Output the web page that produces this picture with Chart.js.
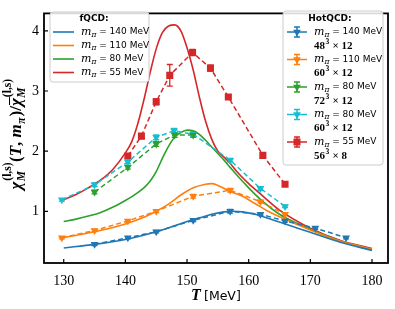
<!DOCTYPE html>
<html>
<head>
<meta charset="utf-8">
<script src="https://cdn.jsdelivr.net/npm/chart.js@4.4.0/dist/chart.umd.min.js"></script>
<style>
  html, body { margin: 0; padding: 0; background: #fff; }
</style>
</head>
<body>
<canvas id="chart" width="395" height="309"></canvas>
<script>
// axis ticks
const xTicks = [130, 140, 150, 160, 170, 180];
const yTicks = [1, 2, 3, 4];

// fQCD curves (solid lines)
const fqcd140T = [130, 135, 140, 145, 148, 150, 152, 154, 156, 157.5, 159, 161, 163, 165, 170, 175, 180];
const fqcd140Y = [0.39, 0.45, 0.53, 0.66, 0.76, 0.83, 0.89, 0.95, 0.99, 1.0, 0.99, 0.95, 0.89, 0.82, 0.65, 0.48, 0.35];
const fqcd110T = [130, 135, 140, 143, 145, 147, 149, 151, 153, 154, 155, 157, 159, 161, 163, 165, 170, 175, 180];
const fqcd110Y = [0.56, 0.66, 0.79, 0.9, 1.0, 1.12, 1.27, 1.39, 1.45, 1.46, 1.43, 1.33, 1.25, 1.13, 1.01, 0.91, 0.69, 0.5, 0.37];
const fqcd80T = [130, 132, 134, 136, 138, 140, 141, 142, 143, 144, 145, 146, 147, 148, 149, 150, 151, 152, 153, 154, 155, 156, 157, 158, 160, 162, 165, 170, 175, 180];
const fqcd80Y = [0.83, 0.87, 0.92, 0.98, 1.07, 1.18, 1.24, 1.31, 1.39, 1.5, 1.66, 1.88, 2.08, 2.23, 2.31, 2.35, 2.34, 2.28, 2.18, 2.07, 1.96, 1.85, 1.73, 1.61, 1.39, 1.19, 0.95, 0.7, 0.5, 0.37];
const fqcd55T = [130, 132, 134, 136, 138, 140, 141, 142, 143, 144, 145, 146, 147, 148, 149, 150, 151, 152, 153, 154, 155, 156, 157, 158, 160, 162, 165, 170, 175, 180];
const fqcd55Y = [1.19, 1.28, 1.39, 1.52, 1.70, 1.97, 2.15, 2.45, 2.85, 3.30, 3.70, 3.97, 4.08, 4.10, 4.00, 3.72, 3.35, 2.90, 2.50, 2.20, 2.00, 1.90, 1.80, 1.67, 1.46, 1.28, 1.02, 0.72, 0.51, 0.38];

// HotQCD lattice points (dashed lines with markers)
const hot140T = [135.0, 140.4, 145.0, 151.0, 157.0, 161.9, 165.9, 170.8, 175.8];
const hot140Y = [0.45, 0.56, 0.66, 0.85, 1.00, 0.95, 0.84, 0.72, 0.56];
const hot140Err = [0.02, 0.02, 0.02, 0.02, 0.03, 0.02, 0.02, 0.02, 0.02];
const hot110T = [129.7, 135.0, 140.4, 145.0, 151.0, 157.0, 161.9, 165.9];
const hot110Y = [0.56, 0.68, 0.84, 1.00, 1.25, 1.35, 1.16, 0.95];
const hot110Err = [0.02, 0.02, 0.02, 0.02, 0.03, 0.03, 0.02, 0.02];
const hot80aT = [135.0, 140.4, 145.0, 148.0, 151.0];
const hot80aY = [1.32, 1.73, 2.12, 2.27, 2.27];
const hot80aErr = [0.03, 0.03, 0.04, 0.04, 0.04];
const hot80bT = [129.7, 135.0, 140.4, 145.0, 147.9, 151.0, 157.0, 161.9, 165.9];
const hot80bY = [1.19, 1.44, 1.82, 2.23, 2.34, 2.28, 1.85, 1.38, 1.08];
const hot80bErr = [0.02, 0.03, 0.03, 0.04, 0.04, 0.04, 0.03, 0.03, 0.02];
const hot55T = [140.4, 142.6, 145.0, 147.2, 150.9, 153.8, 156.7, 162.3, 165.9];
const hot55Y = [1.92, 2.25, 2.82, 3.26, 3.64, 3.38, 2.90, 1.93, 1.45];
const hot55Err = [0.04, 0.04, 0.05, 0.18, 0.05, 0.05, 0.04, 0.04, 0.03];

// legend texts
const fqcdMasses = ['140', '110', '80', '55'];
const hotMasses = ['140', '110', '80', '80', '55'];
const hotVolumes = ['48', '60', '72', '60', '56'];
const hotNt = ['12', '12', '12', '12', '8'];

const BLUE = '#1f77b4', ORANGE = '#ff7f0e', GREEN = '#2ca02c', RED = '#d62728', CYAN = '#17becf';
const fqcdColors = [BLUE, ORANGE, GREEN, RED];
const hotColors = [BLUE, ORANGE, GREEN, CYAN, RED];
const hotShapes = ['tri', 'tri', 'tri', 'tri', 'sq'];

const SERIF = '"DejaVu Serif", "Liberation Serif", serif';
const TSERIF = '"Liberation Serif", serif';
const SANS = '"DejaVu Sans", sans-serif';

const zip = (xs, ys) => xs.map((x, i) => ({ x: x, y: ys[i] }));

const solid = (xs, ys, color) => ({
    data: zip(xs, ys),
    borderColor: color,
    borderWidth: 1.6,
    pointRadius: 0,
    cubicInterpolationMode: 'monotone'
});

const dashed = (xs, ys, errs, color, shape) => ({
    data: zip(xs, ys),
    errors: errs,
    borderColor: color,
    backgroundColor: color,
    borderWidth: 1.5,
    borderDash: [5, 3],
    pointStyle: shape === 'sq' ? 'rect' : 'triangle',
    rotation: shape === 'sq' ? 0 : 180,
    pointRadius: shape === 'sq' ? 5 : 4.5,
    pointBorderWidth: 0,
    tension: 0
});

// draw a marker like the plot ones (legend handles)
function marker(ctx, shape, x, y, color) {
    ctx.fillStyle = color;
    ctx.beginPath();
    if (shape === 'sq') {
        ctx.rect(x - 3.5, y - 3.5, 7, 7);
    } else {
        ctx.moveTo(x - 3.9, y - 2.25);
        ctx.lineTo(x + 3.9, y - 2.25);
        ctx.lineTo(x, y + 4.5);
        ctx.closePath();
    }
    ctx.fill();
}

// write "m_pi = xx MeV"
function mpiText(ctx, x, y, mass) {
    ctx.textAlign = 'left';
    ctx.textBaseline = 'middle';
    ctx.fillStyle = '#000';
    ctx.font = 'italic 11px ' + SERIF;
    ctx.fillText('m', x, y);
    x += ctx.measureText('m').width;
    ctx.font = 'italic 7.5px ' + SERIF;
    ctx.fillText('π', x, y + 3);
    x += ctx.measureText('π').width;
    ctx.font = '9px ' + SANS;
    ctx.fillText(' = ' + mass + ' MeV', x, y);
}

function frame(ctx, x, y, w, h) {
    ctx.beginPath();
    ctx.roundRect(x, y, w, h, 3);
    ctx.fillStyle = 'rgba(255,255,255,0.85)';
    ctx.fill();
    ctx.strokeStyle = '#cccccc';
    ctx.lineWidth = 1;
    ctx.stroke();
}

const errorBars = {
    id: 'errorBars',
    beforeDatasetsDraw(chart) {
        const ctx = chart.ctx;
        const ys = chart.scales.y;
        ctx.save();
        chart.data.datasets.forEach((ds, i) => {
            if (!ds.errors) return;
            const meta = chart.getDatasetMeta(i);
            ctx.strokeStyle = ds.borderColor;
            ctx.lineWidth = 1.3;
            meta.data.forEach((pt, j) => {
                const v = ds.data[j].y, e = ds.errors[j];
                const y1 = ys.getPixelForValue(v - e), y2 = ys.getPixelForValue(v + e);
                ctx.beginPath();
                ctx.moveTo(pt.x, y1); ctx.lineTo(pt.x, y2);
                ctx.moveTo(pt.x - 3, y1); ctx.lineTo(pt.x + 3, y1);
                ctx.moveTo(pt.x - 3, y2); ctx.lineTo(pt.x + 3, y2);
                ctx.stroke();
            });
        });
        ctx.restore();
    }
};

const decorations = {
    id: 'decorations',
    afterDraw(chart) {
        const ctx = chart.ctx;
        const a = chart.chartArea;
        const xs = chart.scales.x, ys = chart.scales.y;
        ctx.save();

        // spines and inward ticks
        ctx.strokeStyle = '#000';
        ctx.lineWidth = 1.8;
        ctx.strokeRect(a.left, a.top, a.right - a.left, a.bottom - a.top);
        ctx.lineWidth = 1.2;
        ctx.beginPath();
        xTicks.forEach(v => {
            const px = xs.getPixelForValue(v);
            ctx.moveTo(px, a.bottom); ctx.lineTo(px, a.bottom - 4);
        });
        yTicks.forEach(v => {
            const py = ys.getPixelForValue(v);
            ctx.moveTo(a.left, py); ctx.lineTo(a.left + 4, py);
        });
        ctx.stroke();

        // fQCD legend
        frame(ctx, 50, 12, 99, 70);
        ctx.fillStyle = '#000';
        ctx.font = 'bold 9px ' + SANS;
        ctx.textAlign = 'center';
        ctx.textBaseline = 'middle';
        ctx.fillText('fQCD:', 94, 19);
        fqcdMasses.forEach((m, i) => {
            const y = 32 + i * 13.5;
            ctx.strokeStyle = fqcdColors[i];
            ctx.lineWidth = 1.6;
            ctx.beginPath();
            ctx.moveTo(53, y); ctx.lineTo(74, y);
            ctx.stroke();
            mpiText(ctx, 81, y, m);
        });

        // HotQCD legend
        frame(ctx, 283, 11, 100, 154);
        ctx.fillStyle = '#000';
        ctx.font = 'bold 9px ' + SANS;
        ctx.textAlign = 'center';
        ctx.textBaseline = 'middle';
        ctx.fillText('HotQCD:', 330, 18.5);
        hotMasses.forEach((m, i) => {
            const y = 32 + i * 27.5;
            const c = hotColors[i];
            ctx.strokeStyle = c;
            ctx.lineWidth = 1.5;
            ctx.beginPath();
            ctx.moveTo(287, y); ctx.lineTo(307, y);
            ctx.moveTo(297, y - 5); ctx.lineTo(297, y + 5);
            ctx.moveTo(294, y - 5); ctx.lineTo(300, y - 5);
            ctx.moveTo(294, y + 5); ctx.lineTo(300, y + 5);
            ctx.stroke();
            marker(ctx, hotShapes[i], 297, y, c);
            mpiText(ctx, 314, y, m);
            // lattice size
            let x = 314;
            const yl = y + 14;
            ctx.fillStyle = '#000';
            ctx.textAlign = 'left';
            ctx.font = 'bold 11px ' + TSERIF;
            ctx.fillText(hotVolumes[i], x, yl);
            x += ctx.measureText(hotVolumes[i]).width;
            ctx.font = 'bold 7.5px ' + TSERIF;
            ctx.fillText('3', x + 0.5, yl - 4);
            x += ctx.measureText('3').width + 1;
            ctx.font = 'bold 11px ' + TSERIF;
            ctx.fillText(' × ' + hotNt[i], x, yl);
        });

        // x axis title
        ctx.fillStyle = '#000';
        ctx.textAlign = 'left';
        ctx.textBaseline = 'alphabetic';
        ctx.font = 'bold italic 16px ' + TSERIF;
        ctx.fillText('T', 191, 300);
        ctx.font = '12.5px ' + SANS;
        ctx.fillText('[MeV]', 204, 300);

        // y axis title, rotated
        const big = 'bold italic 17px ' + TSERIF;
        const bigUp = 'bold 17px ' + TSERIF;
        const sub = 'bold italic 11.5px ' + TSERIF;
        const sup = 'bold 11.5px ' + TSERIF;
        const parts = [
            { t: 'χ', f: big, sub: 'M', sup: '(l,s)' },
            { t: '(', f: bigUp },
            { t: 'T', f: big },
            { t: ', ', f: bigUp },
            { t: 'm', f: big, sub: 'π' },
            { t: ')', f: bigUp },
            { t: '/', f: bigUp },
            { t: 'χ', f: big, sub: 'M', sup: '(l,s)', bar: true }
        ];
        const widthOf = p => {
            ctx.font = p.f;
            let w = ctx.measureText(p.t).width;
            let s = 0;
            if (p.sub) { ctx.font = sub; s = Math.max(s, ctx.measureText(p.sub).width); }
            if (p.sup) { ctx.font = sup; s = Math.max(s, ctx.measureText(p.sup).width); }
            return w + s + (s ? 1.5 : 0);
        };
        const total = parts.reduce((acc, p) => acc + widthOf(p), 0);
        ctx.translate(21, 134);
        ctx.rotate(-Math.PI / 2);
        let x = -total / 2;
        parts.forEach(p => {
            ctx.font = p.f;
            ctx.fillText(p.t, x, 0);
            const w = ctx.measureText(p.t).width;
            if (p.bar) {
                ctx.lineWidth = 1;
                ctx.strokeStyle = '#000';
                ctx.beginPath();
                ctx.moveTo(x + 1, -11.5); ctx.lineTo(x + w + 1, -11.5);
                ctx.stroke();
            }
            if (p.sub) { ctx.font = sub; ctx.fillText(p.sub, x + w + 0.5, 4); }
            if (p.sup) { ctx.font = sup; ctx.fillText(p.sup, x + w + 1, -10); }
            x += widthOf(p);
        });
        ctx.restore();
    }
};

new Chart(document.getElementById('chart'), {
    type: 'line',
    data: {
        datasets: [
            dashed(hot140T, hot140Y, hot140Err, BLUE, 'tri'),
            dashed(hot110T, hot110Y, hot110Err, ORANGE, 'tri'),
            dashed(hot80aT, hot80aY, hot80aErr, GREEN, 'tri'),
            dashed(hot80bT, hot80bY, hot80bErr, CYAN, 'tri'),
            dashed(hot55T, hot55Y, hot55Err, RED, 'sq'),
            solid(fqcd140T, fqcd140Y, BLUE),
            solid(fqcd110T, fqcd110Y, ORANGE),
            solid(fqcd80T, fqcd80Y, GREEN),
            solid(fqcd55T, fqcd55Y, RED)
        ]
    },
    options: {
        responsive: false,
        animation: false,
        events: [],
        layout: { padding: { top: 7, right: 7, left: 0, bottom: 0 } },
        scales: {
            x: {
                type: 'linear',
                min: 126.8,
                max: 182.6,
                afterBuildTicks: s => { s.ticks = xTicks.map(v => ({ value: v })); },
                afterFit: s => { s.height = 46; },
                grid: { display: false, drawTicks: false },
                border: { display: false },
                ticks: {
                    padding: 10,
                    color: '#000',
                    maxRotation: 0,
                    font: { family: 'Liberation Serif', size: 14 }
                }
            },
            y: {
                type: 'linear',
                min: 0.14,
                max: 4.29,
                afterBuildTicks: s => { s.ticks = yTicks.map(v => ({ value: v })); },
                afterFit: s => { s.width = 44; },
                grid: { display: false, drawTicks: false },
                border: { display: false },
                ticks: {
                    padding: 5,
                    color: '#000',
                    font: { family: 'Liberation Serif', size: 14 }
                }
            }
        },
        plugins: {
            legend: { display: false },
            tooltip: { enabled: false }
        }
    },
    plugins: [errorBars, decorations]
});
</script>
</body>
</html>
